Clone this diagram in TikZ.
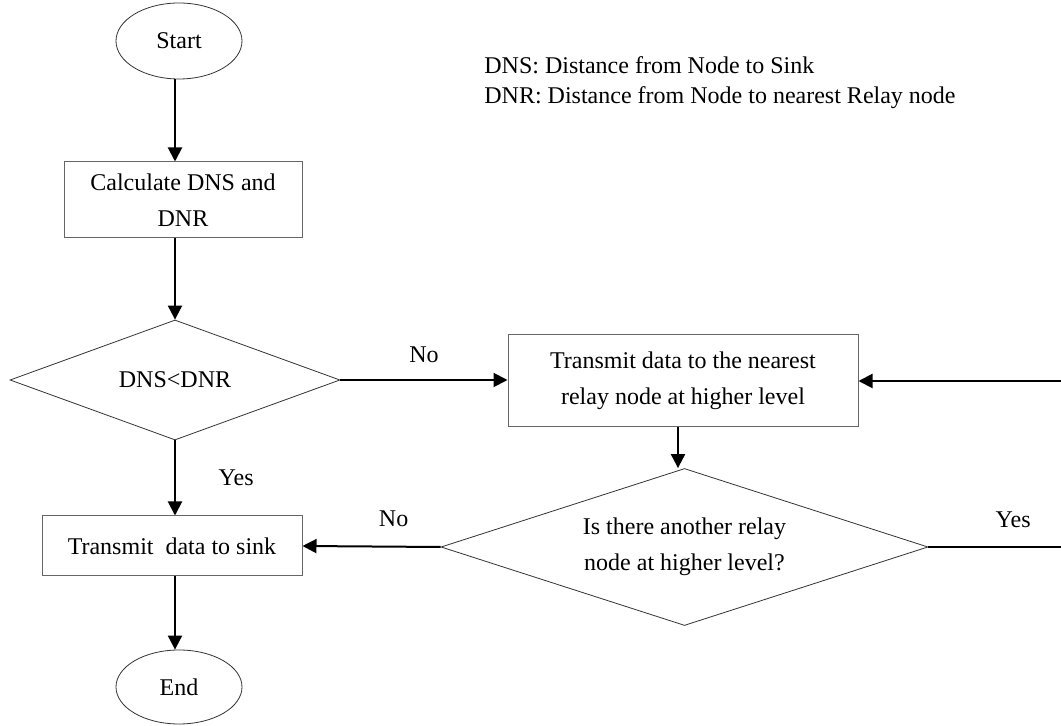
\documentclass[tikz,border=0pt]{standalone}
\usepackage{fontspec}
\setmainfont{Liberation Serif}
\usetikzlibrary{shapes.geometric,arrows.meta}

\begin{document}
\begin{tikzpicture}[x=0.5pt, y=-0.5pt, font=\fontsize{12pt}{18pt}\selectfont,
  box/.style={draw=black!60, line width=0.5pt, rectangle, align=center, inner sep=0pt},
  term/.style={draw=black!80, line width=0.4pt, ellipse, minimum width=63pt, minimum height=38pt, inner sep=0pt},
  test/.style={draw=black!80, line width=0.4pt, diamond, align=center, inner sep=0pt, shape aspect=3},
  flow/.style={line width=1pt, -{Triangle[length=7pt, width=7pt]}}]
  \useasboundingbox (0,0) rectangle (1061,726);
  \clip (0,0) rectangle (1061,726);
  % nodes
  \node[term] at (179, 41) (start) {Start};
  \node[box, minimum width=119pt, minimum height=38pt] at (183, 200) (calc) {Calculate DNS and\\DNR};
  \node[test, minimum width=165pt, minimum height=60pt] at (175, 380) (dns) {DNS<DNR};
  \node[box, minimum width=175pt, minimum height=46pt] at (683, 381) (relay) {Transmit data to the nearest\\relay node at higher level};
  \node[test, minimum width=243.5pt, minimum height=78.5pt] at (684.5, 547) (more) {Is there another relay\\node at higher level?};
  \node[box, minimum width=130pt, minimum height=30pt] at (172, 546) (sink) {Transmit\ \ data to sink};
  \node[term, minimum height=37pt] at (179, 687) (stop) {End};
  % legend
  \node[anchor=west, align=left, inner sep=0pt, font=\fontsize{12pt}{15pt}\selectfont] at (484, 83) (legend) {DNS: Distance from Node to Sink\\DNR: Distance from Node to nearest Relay node};
  % connectors
  \draw[flow] (start.south -| dns.north) -- (calc.north -| dns.north);
  \draw[flow] (calc.south -| dns.north) -- (dns.north);
  \draw[flow] (dns.east) -- node[above=5pt] {No} (relay.west |- dns.east);
  \draw[flow] (dns.south) -- node[right=18pt] {Yes} (sink.north -| dns.south);
  \draw[flow] (relay.south -| 678,0) -- (more.north -| 678,0);
  \draw[flow] (more.west) -- node[above=6pt, pos=0.34] {No} (sink.east);
  \draw[flow] (more.east) -- node[above=6pt, pos=0.53] {Yes} ++(160,0) |- (relay.east);
  \draw[flow] (sink.south -| dns.north) -- (stop.north -| dns.north);
\end{tikzpicture}
\end{document}
